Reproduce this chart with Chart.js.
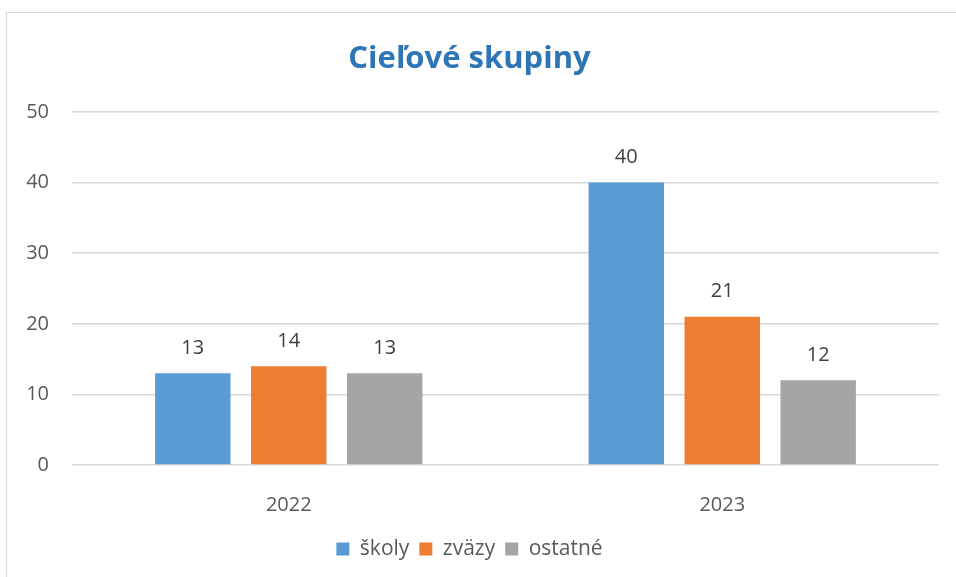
<!DOCTYPE html>
<html>
<head>
<meta charset="utf-8">
<script src="https://cdn.jsdelivr.net/npm/chart.js@4"></script>
<style>
  html, body { margin: 0; padding: 0; background: #fff; overflow: hidden; }
  #frame { position: absolute; left: 6px; top: 12px; width: 1200px; height: 1000px; border: 1px solid #d9d9d9; }
  #chart { position: absolute; left: 0; top: 0; }
</style>
</head>
<body>
<div id="frame"></div>
<canvas id="chart" width="956" height="577"></canvas>
<script>
const years = ['2022', '2023'];
const skoly = [13, 40];
const zvazy = [14, 21];
const ostatne = [13, 12];
const yTicks = [0, 10, 20, 30, 40, 50];

const font = '"Open Sans", "Liberation Sans", sans-serif';

// draws the value above each bar
let valueLabels = {
    id: 'valueLabels',
    afterDatasetsDraw: function(chart) {
        let ctx = chart.ctx;
        ctx.save();
        ctx.font = '20px ' + font;
        ctx.fillStyle = '#404040';
        ctx.textAlign = 'center';
        ctx.textBaseline = 'middle';
        chart.data.datasets.forEach((ds, i) => {
            chart.getDatasetMeta(i).data.forEach((bar, j) => {
                ctx.fillText(ds.data[j], bar.x, bar.y - 25);
            });
        });
        ctx.restore();
    }
};

let ctx = document.getElementById('chart').getContext('2d');
let chart = new Chart(ctx, {
    type: 'bar',
    data: {
        labels: years,
        datasets: [
            { label: 'školy', data: skoly, backgroundColor: '#5B9BD5' },
            { label: 'zväzy', data: zvazy, backgroundColor: '#ED7D31' },
            { label: 'ostatné', data: ostatne, backgroundColor: '#A5A5A5' }
        ]
    },
    options: {
        responsive: false,
        animation: false,
        categoryPercentage: 0.664,
        barPercentage: 0.786,
        layout: { padding: { left: 0, right: 17, top: 0, bottom: 7.5 } },
        plugins: {
            title: {
                display: true,
                text: 'Cieľové skupiny',
                color: '#2E75B6',
                font: { family: font, size: 31, weight: 'bold' },
                padding: { top: 40.4, bottom: 34.4 }
            },
            legend: {
                position: 'bottom',
                labels: {
                    color: '#595959',
                    font: { family: font, size: 21 },
                    boxWidth: 13,
                    boxHeight: 13,
                    padding: 10
                }
            },
            tooltip: { enabled: false }
        },
        scales: {
            x: {
                grid: { display: false },
                border: { display: false },
                ticks: { color: '#595959', font: { family: font, size: 20 }, padding: 20 },
                afterFit: function(s) { s.height = 63.5; }
            },
            y: {
                min: yTicks[0],
                max: yTicks[yTicks.length - 1],
                grid: { color: '#d9d9d9', lineWidth: 1.5, drawTicks: false },
                border: { display: false },
                ticks: { stepSize: 10, color: '#595959', font: { family: font, size: 20 }, padding: 23 },
                afterFit: function(s) { s.width = 72; }
            }
        }
    },
    plugins: [valueLabels]
});
</script>
</body>
</html>
